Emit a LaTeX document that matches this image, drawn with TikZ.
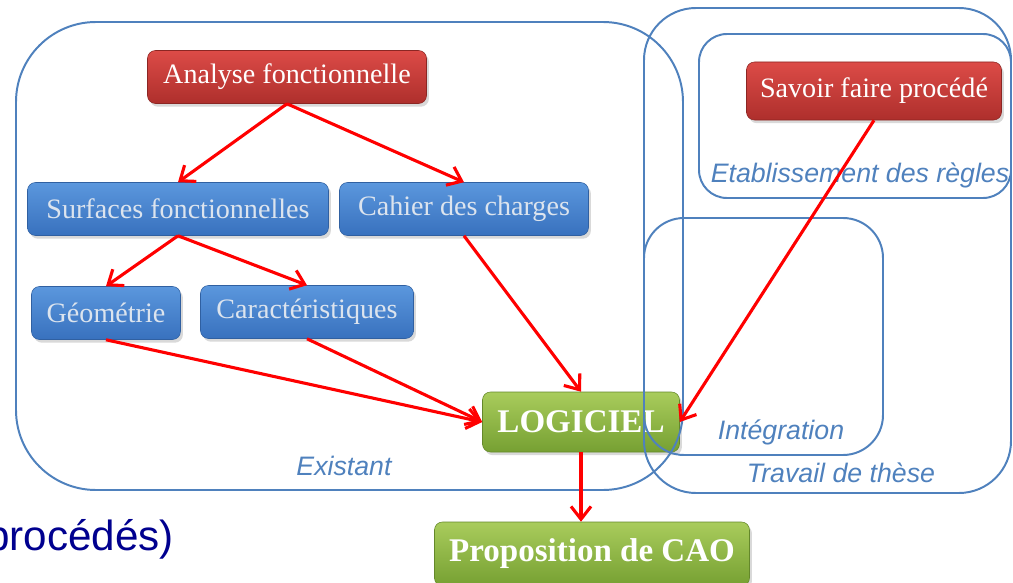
\documentclass[tikz,border=0pt]{standalone}
\usepackage{fontspec}
\setmainfont{Liberation Serif}
\setsansfont{Liberation Sans}
\usepackage{tikz}
\usetikzlibrary{positioning,arrows.meta,shadows}
\definecolor{RegionBlue}{HTML}{4F81BD}
\definecolor{RedTop}{HTML}{DC4B47}
\definecolor{RedBot}{HTML}{AE2F2C}
\definecolor{BlueTop}{HTML}{5B97DD}
\definecolor{BlueBot}{HTML}{3871BE}
\definecolor{GreenTop}{HTML}{A9CC5C}
\definecolor{GreenBot}{HTML}{76A032}
\definecolor{BlueText}{HTML}{DCE4EE}
\definecolor{NavyText}{HTML}{00008F}

\begin{document}
\begin{tikzpicture}[
  x=0.25mm, y=-0.25mm,
  box/.style={rounded corners=2mm,minimum height=13.25mm,inner sep=2pt,align=center,
    font=\fontsize{20}{24}\selectfont,
    drop shadow={opacity=0.3,shadow xshift=0.6mm,shadow yshift=-0.8mm}},
  redbox/.style={box,top color=RedTop,bottom color=RedBot,draw=RedBot!80!black,text=white},
  bluebox/.style={box,top color=BlueTop,bottom color=BlueBot,draw=BlueBot!85!black,text=BlueText},
  greenbox/.style={box,top color=GreenTop,bottom color=GreenBot,draw=GreenBot!85!black,text=white,
    font=\fontsize{23.5}{28}\selectfont\bfseries,minimum height=15mm},
  region/.style={draw=RegionBlue,line width=1.4pt},
  tag/.style={text=RegionBlue,anchor=base,font=\sffamily\itshape\fontsize{19}{22}\selectfont},
  arr/.style={-{Straight Barb[length=3.2mm,width=5mm]},line width=2.2pt,red}
]
\useasboundingbox (0,0) rectangle (1013,583);

% boxes
\node[redbox,minimum width=69.75mm] (analyse) at (287,77) {Analyse fonctionnelle};
\node[bluebox,minimum width=75.25mm] (surfaces) at (178,209) {Surfaces fonctionnelles};
\node[bluebox,minimum width=62.25mm] (cahier) at (464,209) {Cahier des charges};
\node[bluebox,minimum width=37.25mm] (geometrie) at (106,313) {Géométrie};
\node[bluebox,minimum width=53.25mm] (caract) at (307,312) {Caractéristiques};
\node[greenbox,minimum width=49.25mm] (logiciel) at (581,422) {LOGICIEL};
\node[greenbox,minimum width=78.75mm,minimum height=16mm] (prop) at (592,554) {Proposition de CAO};
\node[redbox,minimum width=63.75mm,minimum height=14.5mm] (savoir) at (874,91) {Savoir faire procédé};

% regions
\draw[region,rounded corners=20mm] (16,22) rectangle (683,490);
\draw[region,rounded corners=13mm] (644,8) rectangle (1011,493);
\draw[region,rounded corners=7mm] (699,34) rectangle (1011,198);
\draw[region,rounded corners=10mm] (644,218) rectangle (883,455);
\node[tag] (existant) at (344,475) {Existant};
\node[tag] (etab) at (860,182) {Etablissement des règles};
\node[tag] (integ) at (781,439) {Intégration};
\node[tag] (travail) at (841,482) {Travail de thèse};
\node[anchor=base east,text=NavyText,font=\sffamily\fontsize{30}{36}\selectfont] (procedes) at (179,550) {procédés)};

% arrows
\draw[arr] (analyse.south) -- (surfaces.north);
\draw[arr] (analyse.south) -- (cahier.north);
\draw[arr] (surfaces.south) -- (geometrie.north);
\draw[arr] (surfaces.south) -- (caract.north);
\draw[arr] (geometrie.south) -- (logiciel.west);
\draw[arr] (caract.south) -- (logiciel.west);
\draw[arr] (cahier.south) -- (logiciel.north);
\draw[arr] (savoir.south) -- (logiciel.east);
\draw[arr] (logiciel.south) -- (logiciel.south |- prop.north);
\end{tikzpicture}
\end{document}
